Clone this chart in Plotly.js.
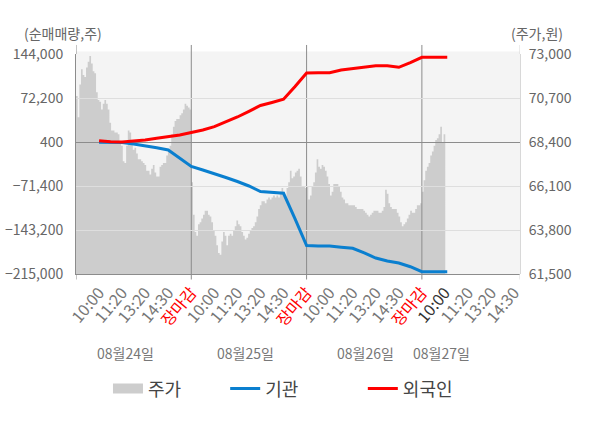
<!DOCTYPE html>
<html>
<head>
<meta charset="utf-8">
<script src="https://cdn.plot.ly/plotly-3.0.1.min.js"></script>
<style>
  html, body { margin: 0; padding: 0; background: #fff; }
  #chart { width: 600px; height: 428px; }
</style>
</head>
<body>
<div id="chart"></div>
<script>
/*
 Data
*/

// x axis is in "day" units: 0 = 08/24 open, 1 = 08/25 open, ...
var slotLabels = ["10:00", "11:20", "13:20", "14:30", "장마감"];
var dayLabels = ["08월24일", "08월25일", "08월26일", "08월27일"];
var dayLabelPos = [0.425, 1.466, 2.507, 3.166];

// stock price (won), sampled evenly through each session
var priceDay1 = [70800, 69700, 71400, 72200, 71900, 71800, 72300, 72600, 72900, 72500,
  72100, 72000, 71000, 70600, 70500, 70100, 70400, 70600, 70400, 70100,
  69400, 69000, 69000, 68900, 68900, 68800, 68400, 68200, 67400, 67300,
  68200, 69000, 68900, 68400, 68000, 68100, 67800, 67500, 67500, 67400,
  67300, 67200, 66900, 66900, 66700, 67000, 67200, 66800, 66600, 66600,
  67100, 67200, 67300, 67300, 67700, 67900, 68200, 68800, 69200, 69500,
  69600, 69600, 69800, 69900, 70100, 70400, 70300, 70200, 70100];
var priceDay2 = [66300, 64600, 63700, 63500, 64100, 64200, 64400, 64600, 64800, 64800,
  64600, 64500, 64200, 63800, 63500, 63000, 62600, 62500, 63200, 63700,
  63500, 63000, 63500, 63600, 63500, 63800, 64000, 64300, 64100, 64000,
  63700, 63500, 63300, 63400, 63600, 63800, 63900, 64000, 64200, 64500,
  64900, 65100, 65300, 65300, 65200, 65400, 65500, 65400, 65500, 65600,
  65500, 65600, 65500, 65800, 66000, 65800, 65500, 66000, 66300, 66900,
  66500, 66600, 66800, 66900, 67000, 66600, 66100, 66100, 66000];
var priceDay3 = [66100, 65400, 65600, 66100, 66300, 66800, 67500, 67100, 67000, 67200,
  67100, 66900, 66600, 66200, 65600, 65800, 66200, 66200, 66200, 66100,
  65800, 65500, 65400, 65200, 65200, 65100, 65100, 65100, 65100, 65000,
  64900, 64900, 64900, 64900, 64800, 64700, 64600, 64500, 64600, 64700,
  64800, 64800, 64800, 64700, 64700, 64800, 65000, 65900, 65700, 65200,
  65000, 64900, 64900, 64900, 64700, 64500, 64200, 64000, 64100, 64200,
  64400, 64600, 64800, 64700, 64700, 64900, 65100, 65100, 65200];
var priceDay4 = [65800, 66400, 66900, 67100, 67300, 67700, 67900, 68200, 68500, 68600,
  68800, 69200, 68400, 68800, 68800];
var samplesPerDay = 69;

// cumulative net buying (shares)
var flowSlots = [0.2, 0.3, 0.4, 0.5, 0.6, 0.7, 0.8, 0.9, 1.0,
  1.1, 1.2, 1.3, 1.4, 1.5, 1.6, 1.7, 1.8, 1.9, 2.0,
  2.1, 2.2, 2.3, 2.4, 2.5, 2.6, 2.7, 2.8, 2.9, 3.0, 3.1, 3.22];
var institution = [-100, -100, -400, -2900, -6600, -9100, -12700, -25700, -39600,
  -45300, -51000, -57500, -64100, -71400, -80400, -82300, -83300, -125200, -168500,
  -169300, -169300, -171400, -173100, -180700, -188900, -193800, -197000, -203100, -211200,
  -211200, -211200];
var foreign = [2500, 700, 400, 1500, 3700, 6400, 8600, 11800, 15900,
  20000, 25400, 33000, 41200, 50500, 60000, 64900, 70100, 91000, 113000,
  113500, 113500, 117900, 120300, 122800, 124700, 124900, 122300, 130100, 138600,
  138600, 138600];

var leftTicks = [144000, 72200, 400, -71400, -143200, -215000];
var rightTicks = [73000, 70700, 68400, 66100, 63800, 61500];

/*
 Build
*/

var FONT = "'Noto Sans CJK KR', 'Noto Sans', sans-serif";
var xEnd = 3.851;

var priceX = [], priceY = [];
[priceDay1, priceDay2, priceDay3, priceDay4].forEach(function(day, d) {
  day.forEach(function(p, i) {
    priceX.push(d + i / samplesPerDay);
    priceY.push(p);
  });
});

var tickVals = [], tickText = [];
for (var d = 0; d < 4; d++) {
  slotLabels.forEach(function(lab, k) {
    var v = d + (k + 1) / slotLabels.length;
    if (v > xEnd) return;
    tickVals.push(+v.toFixed(2));
    if (lab === "장마감") tickText.push('<span style="color:#ff0000">' + lab + '</span>');
    else if (d === 3 && k === 0) tickText.push('<span style="color:#333">' + lab + '</span>');
    else tickText.push(lab);
  });
}

var tracePrice = {
  x: priceX, y: priceY,
  xaxis: "x", yaxis: "y",
  type: "scatter", mode: "lines",
  line: {width: 0, shape: "hv"},
  fill: "tozeroy", fillcolor: "#cdcdcd",
  showlegend: false, hoverinfo: "skip"
};

var tracePriceKey = {
  x: [null], y: [null],
  xaxis: "x2", yaxis: "y2",
  name: "주가", type: "scatter", mode: "lines",
  line: {width: 15, color: "#cdcdcd"},
  legend: "legend"
};

var traceInst = {
  x: flowSlots, y: institution,
  xaxis: "x2", yaxis: "y2",
  name: "기관", type: "scatter", mode: "lines",
  line: {width: 3, color: "#0a7fcf"},
  legend: "legend2"
};

var traceForeign = {
  x: flowSlots, y: foreign,
  xaxis: "x2", yaxis: "y2",
  name: "외국인", type: "scatter", mode: "lines",
  line: {width: 3, color: "#ff0000"},
  legend: "legend3"
};

var shapes = [{
  type: "rect", xref: "paper", yref: "paper",
  x0: 0, x1: 1, y0: 0, y1: 1.011,
  fillcolor: "#f4f4f4", line: {width: 0}, layer: "below"
}];
[1, 2, 3].forEach(function(d) {
  shapes.push({type: "line", xref: "x2", yref: "y2", x0: d, x1: d,
    y0: leftTicks[5], y1: leftTicks[0], line: {color: "#8c8c8c", width: 1}, layer: "below"});
});
[0, 1, 2, 3, xEnd].forEach(function(d) {
  var c = d === xEnd ? "#d8d8d8" : "#8c8c8c";
  shapes.push({type: "line", xref: "x2", yref: "paper", x0: d, x1: d,
    y0: 1, y1: 1.041, line: {color: c, width: 1}, layer: "above"});
  shapes.push({type: "line", xref: "x2", yref: "paper", x0: d, x1: d,
    y0: -0.025, y1: 0, line: {color: c, width: 1}, layer: "above"});
});

var annotations = [
  {text: "(순매매량,주)", xref: "paper", yref: "paper", x: -0.122, y: 1.095,
   xanchor: "left", yanchor: "middle", showarrow: false, font: {size: 14, color: "#666"}},
  {text: "(주가,원)", xref: "paper", yref: "paper", x: 0.975, y: 1.095,
   xanchor: "left", yanchor: "middle", showarrow: false, font: {size: 14, color: "#666"}}
];
dayLabels.forEach(function(lab, i) {
  annotations.push({text: lab, xref: "x2", yref: "paper", x: dayLabelPos[i], y: -0.359,
    xanchor: "center", yanchor: "middle", showarrow: false, font: {size: 14, color: "#777"}});
});

function legendAt(x) {
  return {x: x, y: -0.522, xanchor: "left", yanchor: "middle", orientation: "h",
    bgcolor: "rgba(0,0,0,0)", font: {size: 18, color: "#444", family: FONT}};
}

var layout = {
  width: 600, height: 428,
  margin: {l: 76, r: 80, t: 54, b: 154},
  paper_bgcolor: "#ffffff",
  plot_bgcolor: "rgba(0,0,0,0)",
  font: {family: FONT, size: 14, color: "#666"},
  xaxis: {domain: [0, 1], range: [0, xEnd], visible: false, fixedrange: true},
  yaxis: {
    anchor: "x", side: "right", range: [rightTicks[5], rightTicks[0]],
    tickvals: rightTicks, tickformat: ",d",
    showgrid: false, zeroline: false,
    showline: true, linecolor: "#d8d8d8", linewidth: 1,
    ticks: "outside", ticklen: 5, tickcolor: "rgba(0,0,0,0)",
    tickfont: {size: 14, color: "#666"}, fixedrange: true
  },
  xaxis2: {
    anchor: "y2", domain: [0, 1], range: [0, xEnd],
    tickmode: "array", tickvals: tickVals, ticktext: tickText,
    tickangle: -50, tickfont: {size: 16, color: "#777"},
    showgrid: false, zeroline: false,
    showline: true, linecolor: "#8c8c8c", linewidth: 1,
    ticks: "outside", ticklen: 2, tickcolor: "rgba(0,0,0,0)", fixedrange: true
  },
  yaxis2: {
    anchor: "x2", side: "left", range: [leftTicks[5], leftTicks[0]],
    tickvals: leftTicks, tickformat: ",d",
    showgrid: true, gridcolor: "#dedede", gridwidth: 1,
    zeroline: true, zerolinecolor: "#8c8c8c", zerolinewidth: 1,
    showline: true, linecolor: "#8c8c8c", linewidth: 1,
    ticks: "outside", ticklen: 9, tickcolor: "rgba(0,0,0,0)",
    tickfont: {size: 14, color: "#666"}, fixedrange: true
  },
  shapes: shapes,
  annotations: annotations,
  legend: legendAt(0.072),
  legend2: legendAt(0.336),
  legend3: legendAt(0.646),
  hovermode: false
};

var config = {
  'displayModeBar': false
};

Plotly.newPlot("chart", [tracePrice, tracePriceKey, traceInst, traceForeign], layout, config);
</script>
</body>
</html>
